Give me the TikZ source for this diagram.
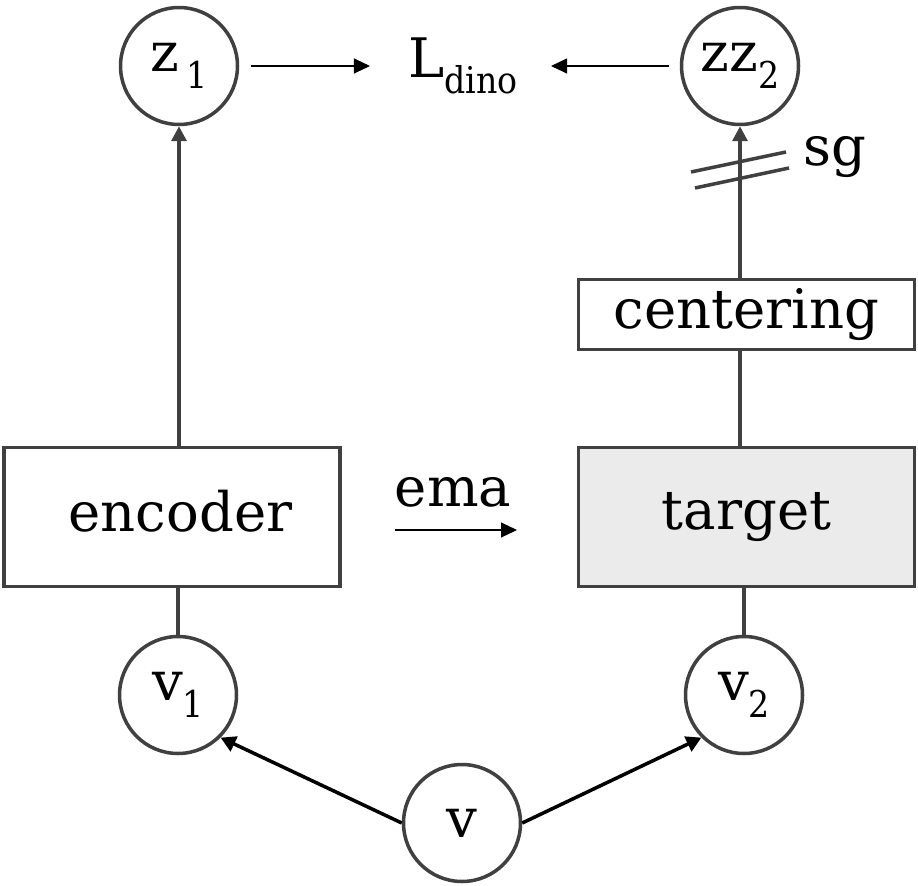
\documentclass[tikz,border=0pt]{standalone}
\usepackage{fontspec}
\setmainfont{DejaVu Serif}
\newfontfamily\subfont{DejaVu Serif Condensed}
\usetikzlibrary{shapes,arrows.meta,positioning}
\definecolor{edge}{RGB}{64,64,64}
\definecolor{tgtgray}{RGB}{235,235,235}
\newcommand{\lowsub}[1]{\raisebox{-0.3em}{\fontsize{21}{21}\subfont #1}}

\begin{document}
\begin{tikzpicture}[x=0.02cm, y=-0.02cm, every node/.style={font=\fontsize{31}{37}\selectfont}]
			\tikzstyle{Var}		= [circle, draw=edge, line width=2pt, minimum size=2.34cm, inner sep=0pt]
			\tikzstyle{Block}	= [rectangle, draw=edge, line width=2pt, inner sep=0pt, minimum width=6.72cm]
			\tikzstyle{Flow}	= [edge, line width=2pt, -{Triangle[length=0.3cm, width=0.3cm]}]
			\tikzstyle{Link}	= [edge, line width=2pt]
			\tikzstyle{Thin}	= [black, line width=0.6pt, -{Triangle[length=0.32cm, width=0.3cm]}]
			\tikzstyle{Aug}		= [black, line width=2pt, -{Triangle[length=0.3cm, width=0.32cm]}]

			\useasboundingbox (0,0) rectangle (918,885);

			\node (z1) at (179,66) [Var] {z\hspace{0.12em}\lowsub{1}};
			\node (loss) at (463,66) [inner sep=0pt] {L\lowsub{dino}};
			\node (zz2) at (740,66) [Var] {zz\lowsub{2}};
			\node (sg) at (835,157) {sg};
			\node (cent) at (746.5,314.5) [Block, minimum height=1.4cm] {centering};
			\node (enc) at (172,517) [Block, minimum height=2.78cm, text depth=0.24cm] {\hspace*{0.34cm}encoder};
			\node (tgt) at (746.5,517) [Block, fill=tgtgray, minimum height=2.78cm] {target};
			\node (ema) at (453,492) {ema};
			\coordinate (emaA) at (395,530);
			\coordinate (emaB) at (517,530);
			\node (v1) at (178,695) [Var] {v\lowsub{1}};
			\node (v2) at (744,695) [Var] {v\lowsub{2}};
			\node (v) at (462,823) [Var] {v};

			\draw [-] (z1.east) to (loss.west) [Thin, shorten <=0.24cm, shorten >=0.76cm];
			\draw [-] (zz2.west) to (loss.east) [Thin, shorten <=0.22cm, shorten >=0.66cm];
			\draw [-] (emaA) to (emaB) [Thin];

			\draw [-] (enc.north -| z1) to (z1) [Flow];
			\draw [-] (v1) to (enc.south -| v1) [Link];
			\draw [-] (cent.north -| zz2) to (zz2) [Flow];
			\draw [-] (tgt.north -| zz2) to (cent.south -| zz2) [Link];
			\draw [-] (v2) to (tgt.south -| v2) [Link];

			\draw [-] (v.west) to (v1.south east) [Aug];
			\draw [-] (v.east) to (v2.south west) [Aug];

			% stop-gradient marks
			\draw [-] (691,172) to (786,152) [Link];
			\draw [-] (695,188) to (789,168) [Link];
		\end{tikzpicture}
\end{document}
